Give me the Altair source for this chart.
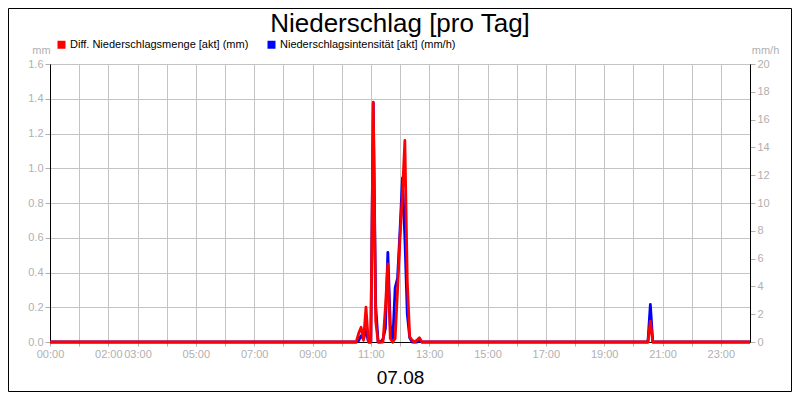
import altair as alt
import pandas as pd

# ---- data (5-minute values) ----
TIMES = ["00:00", "10:25", "10:30", "10:35", "10:40", "10:45", "10:50", "10:55",
         "11:00", "11:05", "11:10", "11:15", "11:20", "11:25", "11:30", "11:35",
         "11:40", "11:45", "11:50", "11:55", "12:00", "12:05", "12:10", "12:15",
         "12:20", "12:25", "12:30", "12:35", "12:40", "12:45",
         "20:30", "20:35", "20:40", "24:00"]

MENGE_MM = [0, 0, 0, 0.05, 0.085, 0.01, 0.2, 0.0,
            0.0, 1.38, 0.12, 0, 0, 0.0, 0.2, 0.45,
            0.02, 0, 0.02, 0.3, 0.6, 0.85, 1.16, 0.35,
            0.03, 0.01, 0, 0.01, 0.025, 0,
            0, 0.12, 0, 0]

INTENS_MMH = [0, 0, 0, 0.1, 0.45, 0.2, 0.9, 0,
              0, 17.2, 2.6, 0, 0, 0.2, 1.0, 6.45,
              1.2, 0, 3.9, 4.6, 8.0, 11.8, 7.5, 2.0,
              0.3, 0, 0, 0, 0.1, 0,
              0, 2.7, 0, 0]

SERIES = ["Diff. Niederschlagsmenge [akt] (mm)", "Niederschlagsintensität [akt] (mm/h)"]
COLORS = ["#ff0000", "#0000ff"]

X_TICKS = list(range(24))
X_LABELS = ["00:00", "", "02:00", "03:00", "", "05:00", "", "07:00", "", "09:00", "",
            "11:00", "", "13:00", "", "15:00", "", "17:00", "", "19:00", "", "21:00",
            "", "23:00"]
Y_LEFT_TICKS = [0, 0.2, 0.4, 0.6, 0.8, 1.0, 1.2, 1.4, 1.6]
Y_RIGHT_TICKS = [0, 2, 4, 6, 8, 10, 12, 14, 16, 18, 20]

TITLE = "Niederschlag [pro Tag]"
DATE = "07.08"


def to_hour(s):
    h, m = s.split(":")
    return int(h) + int(m) / 60.0


rows = []
for t, a, b in zip(TIMES, MENGE_MM, INTENS_MMH):
    rows.append({"hour": to_hour(t), "value": a, "series": SERIES[0]})
    rows.append({"hour": to_hour(t), "value": b, "series": SERIES[1]})
df = pd.DataFrame(rows)

label_expr = "[" + ",".join("'%s'" % l for l in X_LABELS) + "][datum.value]"

GRAY = "#b0b0b0"
GRID = "#c4c4c4"

x_enc = alt.X(
    "hour:Q",
    scale=alt.Scale(domain=[0, 24], nice=False, zero=False),
    axis=alt.Axis(
        values=X_TICKS, labelExpr=label_expr, labelFlush=False, labelOverlap=False,
        grid=True, gridColor=GRID, tickSize=4, tickColor=GRAY, labelColor=GRAY,
        labelFontSize=11, labelPadding=2, domainColor="black",
        title=DATE, titleFontSize=19, titleFontWeight="normal", titleColor="black",
        titleX=350, titleY=41, titleAlign="center", titleBaseline="alphabetic",
    ),
)

color_enc = alt.Color(
    "series:N",
    scale=alt.Scale(domain=SERIES, range=COLORS),
    legend=alt.Legend(
        orient="none", legendX=6, legendY=-25, direction="horizontal", title=None,
        symbolType="square", symbolSize=16, symbolStrokeWidth=4, symbolOpacity=1,
        labelFontSize=11, labelColor="black", labelOffset=3, columnPadding=12,
        labelLimit=400, padding=0,
    ),
)

blue = alt.Chart(df).transform_filter(
    alt.datum.series == SERIES[1]
).mark_line(strokeWidth=2.8, strokeJoin="round").encode(
    x=x_enc,
    y=alt.Y(
        "value:Q",
        scale=alt.Scale(domain=[0, 20], nice=False),
        axis=alt.Axis(
            orient="right", values=Y_RIGHT_TICKS, format="d", grid=False,
            tickSize=5, tickColor=GRAY, labelColor=GRAY, labelFontSize=11,
            labelPadding=2, domainColor="black",
            title="mm/h", titleAngle=0, titleX=15, titleY=-11, titleAlign="center",
            titleBaseline="alphabetic", titleColor=GRAY, titleFontSize=11,
            titleFontWeight="normal",
        ),
    ),
    color=color_enc,
)

red = alt.Chart(df).transform_filter(
    alt.datum.series == SERIES[0]
).mark_line(strokeWidth=2.8, strokeJoin="round").encode(
    x=x_enc,
    y=alt.Y(
        "value:Q",
        scale=alt.Scale(domain=[0, 1.6], nice=False),
        axis=alt.Axis(
            orient="left", values=Y_LEFT_TICKS, format=".1f", grid=True,
            gridColor=GRID, tickSize=5, tickColor=GRAY, labelColor=GRAY,
            labelFontSize=11, labelPadding=2, domainColor="black",
            title="mm", titleAngle=0, titleX=-9, titleY=-11, titleAlign="center",
            titleBaseline="alphabetic", titleColor=GRAY, titleFontSize=11,
            titleFontWeight="normal",
        ),
    ),
    color=color_enc,
)

frame_data = alt.Data(values=[{"t": TITLE}])

title = alt.Chart(frame_data).mark_text(
    fontSize=26, font="Liberation Sans", align="center", baseline="alphabetic",
    color="black",
).encode(x=alt.value(350), y=alt.value(-32), text="t:N")

border = alt.Chart(frame_data).mark_rect(
    fill=None, stroke="black", strokeWidth=1,
).encode(x=alt.value(-41.5), x2=alt.value(741.5), y=alt.value(-55.5), y2=alt.value(327.5))

chart = alt.layer(blue, red, title, border).resolve_scale(
    y="independent"
).properties(
    width=700, height=278,
    autosize=alt.AutoSizeParams(type="none"),
    padding={"left": 42, "top": 56, "right": 42, "bottom": 50},
).configure(
    font="Liberation Sans",
).configure_view(
    stroke="black", strokeWidth=1,
)

chart.save("out.html", embed_options={"renderer": "svg", "actions": False})
